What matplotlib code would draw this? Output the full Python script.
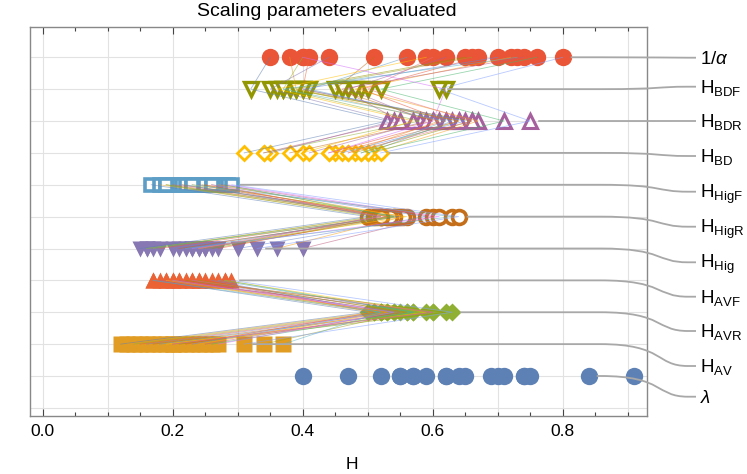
import numpy as np
import matplotlib
matplotlib.use("Agg")
import matplotlib.pyplot as plt
from matplotlib.path import Path
from matplotlib.patches import PathPatch
from matplotlib.transforms import IdentityTransform
from matplotlib.ticker import MultipleLocator, FormatStrFormatter

plt.rcParams['font.family'] = ['Liberation Sans', 'DejaVu Sans']
plt.rcParams['mathtext.fontset'] = 'custom'
plt.rcParams['mathtext.rm'] = 'Liberation Sans'
plt.rcParams['mathtext.it'] = 'Liberation Sans:italic'

# values per parameter, one entry per sample (last entry carries the callout)
inv_alpha = [0.35, 0.38, 0.40, 0.41, 0.44, 0.51, 0.56, 0.59, 0.62, 0.65,
             0.67, 0.70, 0.72, 0.74, 0.76, 0.40, 0.66, 0.73, 0.60, 0.80]
H_BDF = [0.32, 0.39, 0.37, 0.40, 0.35, 0.45, 0.41, 0.36, 0.47, 0.38,
         0.49, 0.40, 0.48, 0.46, 0.52, 0.62, 0.39, 0.37, 0.50, 0.61]
H_BDR = [0.53, 0.61, 0.58, 0.64, 0.54, 0.60, 0.63, 0.57, 0.59, 0.66,
         0.62, 0.65, 0.67, 0.55, 0.71, 0.60, 0.64, 0.62, 0.66, 0.75]
H_BD = [0.31, 0.47, 0.34, 0.45, 0.35, 0.38, 0.50, 0.40, 0.41, 0.49,
        0.44, 0.46, 0.51, 0.34, 0.50, 0.44, 0.48, 0.49, 0.47, 0.52]
H_HigF = [0.167, 0.18, 0.19, 0.20, 0.21, 0.215, 0.22, 0.23, 0.24, 0.245,
          0.25, 0.26, 0.27, 0.275, 0.28, 0.285, 0.19, 0.23, 0.26, 0.291]
H_HigR = [0.50, 0.52, 0.51, 0.53, 0.55, 0.54, 0.52, 0.56, 0.515, 0.545,
          0.53, 0.59, 0.555, 0.60, 0.54, 0.61, 0.535, 0.63, 0.52, 0.64]
H_Hig = [0.15, 0.16, 0.17, 0.18, 0.20, 0.21, 0.23, 0.24, 0.25, 0.26,
         0.27, 0.30, 0.36, 0.40, 0.16, 0.23, 0.25, 0.22, 0.24, 0.33]
H_AVF = [0.17, 0.19, 0.20, 0.21, 0.23, 0.24, 0.27, 0.28, 0.18, 0.22,
         0.25, 0.26, 0.19, 0.21, 0.28, 0.20, 0.24, 0.17, 0.23, 0.29]
H_AVR = [0.50, 0.51, 0.52, 0.53, 0.54, 0.56, 0.57, 0.59, 0.60, 0.62,
         0.51, 0.52, 0.53, 0.55, 0.57, 0.54, 0.56, 0.52, 0.60, 0.63]
H_AV = [0.12, 0.13, 0.14, 0.15, 0.16, 0.17, 0.18, 0.19, 0.20, 0.21,
        0.22, 0.23, 0.24, 0.25, 0.26, 0.27, 0.34, 0.37, 0.20, 0.31]
lam = [0.40, 0.47, 0.52, 0.55, 0.57, 0.59, 0.62, 0.64, 0.65, 0.69,
       0.71, 0.74, 0.75, 0.91, 0.55, 0.62, 0.70, 0.74, 0.57, 0.84]

labels = [r'$\lambda$', r'H$_{\mathrm{AV}}$', r'H$_{\mathrm{AVR}}$', r'H$_{\mathrm{AVF}}$',
          r'H$_{\mathrm{Hig}}$', r'H$_{\mathrm{HigR}}$', r'H$_{\mathrm{HigF}}$',
          r'H$_{\mathrm{BD}}$', r'H$_{\mathrm{BDR}}$', r'H$_{\mathrm{BDF}}$', r'1/$\alpha$']
rows = [lam, H_AV, H_AVR, H_AVF, H_Hig, H_HigR, H_HigF, H_BD, H_BDR, H_BDF, inv_alpha]

pal = ['#5E81B5', '#E19C24', '#8FB032', '#EB6235', '#8778B3', '#C56E1A',
       '#5D9EC7', '#FFBF00', '#A5609D', '#929600', '#E95536', '#6685D9',
       '#F89F13', '#BC5B80', '#47B66D', '#D26BFC', '#9F9F23', '#5AB1C2',
       '#E46F7E', '#7F9EFF']

# (marker, size, filled, edge width)
styles = [('o', 12.5, True, 0), ('s', 12, True, 0), ('D', 9.5, True, 0),
          ('^', 12, True, 0), ('v', 11.5, True, 0), ('o', 10, False, 2.6),
          ('s', 8, False, 2.6), ('D', 7.5, False, 2.0), ('^', 10.5, False, 2.2),
          ('v', 9.5, False, 2.4), ('o', 12.5, True, 0)]

W, Hpx = 747, 474
fig = plt.figure(figsize=(W / 100, Hpx / 100), dpi=100)
ax = fig.add_axes([30 / W, 1 - 415.7 / Hpx, 616.7 / W, (415.7 - 27) / Hpx])
ax.set_xlim(-0.0195, 0.9292)
ax.set_ylim(-0.246, 11.95)

for yv in range(0, 12):
    ax.axhline(yv, color='#e2e2e2', lw=0.8, zorder=0)
for xv in np.arange(0.0, 0.95, 0.1):
    ax.axvline(xv, color='#e2e2e2', lw=0.8, zorder=0)
ax.xaxis.set_major_locator(MultipleLocator(0.2))
ax.xaxis.set_minor_locator(MultipleLocator(0.05))
ax.xaxis.set_major_formatter(FormatStrFormatter('%.1f'))
ax.set_yticks([])
ax.tick_params(axis='x', which='both', direction='in', top=True, labelsize=12.5,
               color='#444444', pad=6)
ax.tick_params(axis='x', which='major', length=5, width=0.8)
ax.tick_params(axis='x', which='minor', length=3, width=0.8)
for s in ax.spines.values():
    s.set_color('#888888')
    s.set_linewidth(1.0)

for i, (vals, (m, ms, filled, mew)) in enumerate(zip(rows, styles)):
    c = pal[i]
    y = np.full(len(vals), i + 1)
    if filled:
        ax.plot(vals, y, ls='none', marker=m, ms=ms, mfc=c, mec='none', zorder=3)
    else:
        ax.plot(vals, y, ls='none', marker=m, ms=ms, mfc='white', mec=c, mew=mew, zorder=3)

# per-sample connections
groups = [[inv_alpha, H_BDF, H_BDR, H_BD], [H_HigF, H_HigR, H_Hig], [H_AVF, H_AVR, H_AV]]
group_y = [[11, 10, 9, 8], [7, 6, 5], [4, 3, 2]]
for g, gy in zip(groups, group_y):
    for k in range(len(g[0])):
        ax.plot([row[k] for row in g], gy, color=pal[k % len(pal)], lw=0.6,
                alpha=0.55, zorder=4)

ax.set_xlabel('H', fontsize=12.5)
ax.xaxis.set_label_coords(0.522, -0.105)
fig.text(327 / W, 1 - 12 / Hpx, 'Scaling parameters evaluated', ha='center',
         va='center', fontsize=14)

# callouts
label_y = [396.7, 366, 331, 296.7, 262.3, 226.7, 191.7, 156, 121, 86.7, 57.7]
for i, vals in enumerate(rows):
    x0, y0 = ax.transData.transform((vals[-1], i + 1))
    x0 += 8
    yl = Hpx - label_y[i]
    verts = [(x0, y0), (600, y0), (665, y0), (655, yl), (688, yl), (696, yl)]
    codes = [Path.MOVETO, Path.LINETO, Path.CURVE4, Path.CURVE4, Path.CURVE4, Path.LINETO]
    fig.patches.append(PathPatch(Path(verts, codes), transform=IdentityTransform(),
                                 fc='none', ec='#a8a8a8', lw=1.3, zorder=5,
                                 figure=fig))
    fig.text(700 / W, (yl - 6) / Hpx, labels[i], ha='left', va='baseline', fontsize=13.5)

fig.savefig('out.png', dpi=100)
